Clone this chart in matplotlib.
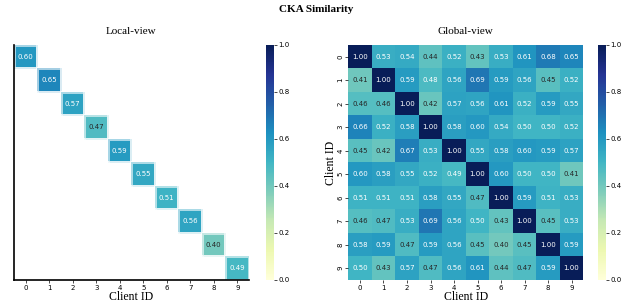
import numpy as np
import matplotlib
matplotlib.use("Agg")
import matplotlib.pyplot as plt
import seaborn as sns

clients = [str(i) for i in range(10)]

# diagonal of the local-view CKA matrix
local_diag = [0.60, 0.65, 0.57, 0.47, 0.59, 0.55, 0.51, 0.56, 0.40, 0.49]

# global-view CKA matrix
global_cka = [
    [1.00, 0.53, 0.54, 0.44, 0.52, 0.43, 0.53, 0.61, 0.68, 0.65],
    [0.41, 1.00, 0.59, 0.48, 0.56, 0.69, 0.59, 0.56, 0.45, 0.52],
    [0.46, 0.46, 1.00, 0.42, 0.57, 0.56, 0.61, 0.52, 0.59, 0.55],
    [0.66, 0.52, 0.58, 1.00, 0.58, 0.60, 0.54, 0.50, 0.50, 0.52],
    [0.45, 0.42, 0.67, 0.53, 1.00, 0.55, 0.58, 0.60, 0.59, 0.57],
    [0.60, 0.58, 0.55, 0.52, 0.49, 1.00, 0.60, 0.50, 0.50, 0.41],
    [0.51, 0.51, 0.51, 0.58, 0.55, 0.47, 1.00, 0.59, 0.51, 0.53],
    [0.46, 0.47, 0.53, 0.69, 0.56, 0.50, 0.43, 1.00, 0.45, 0.53],
    [0.58, 0.59, 0.47, 0.59, 0.56, 0.45, 0.40, 0.45, 1.00, 0.59],
    [0.50, 0.43, 0.57, 0.47, 0.56, 0.61, 0.44, 0.47, 0.59, 1.00],
]

local_mat = np.diag(local_diag)
mask = ~np.eye(10, dtype=bool)

fig = plt.figure(figsize=(6.32, 3.02), dpi=100)
ax1 = fig.add_axes([0.022, 0.073, 0.372, 0.778])
cax1 = fig.add_axes([0.421, 0.073, 0.013, 0.778])
ax2 = fig.add_axes([0.551, 0.073, 0.372, 0.778])
cax2 = fig.add_axes([0.946, 0.073, 0.013, 0.778])

annot_kw = {"fontsize": 5}
sns.heatmap(local_mat, mask=mask, ax=ax1, cbar_ax=cax1, cmap="YlGnBu",
            vmin=0, vmax=1, annot=True, fmt=".2f", annot_kws=annot_kw,
            linewidths=0.8, linecolor=(1, 1, 1, 0.6),
            xticklabels=clients, yticklabels=False)
sns.heatmap(np.array(global_cka), ax=ax2, cbar_ax=cax2, cmap="YlGnBu",
            vmin=0, vmax=1, annot=True, fmt=".2f", annot_kws=annot_kw,
            xticklabels=clients, yticklabels=clients)

# left panel keeps a left and bottom spine
for s in ["left", "bottom"]:
    ax1.spines[s].set_visible(True)
    ax1.spines[s].set_color("black")
    ax1.spines[s].set_linewidth(1.2)

for ax in (ax1, ax2):
    ax.tick_params(axis="both", labelsize=5, length=2, width=0.5, pad=1.5)
    ax.set_xlabel("Client ID", family="Liberation Serif", fontsize=8.5, labelpad=0)
ax2.set_ylabel("Client ID", family="Liberation Serif", fontsize=8.5, labelpad=0)
ax2.tick_params(axis="y", rotation=90)

ax1.set_title("Local-view", family="Liberation Serif", fontsize=8, pad=8)
ax2.set_title("Global-view", family="Liberation Serif", fontsize=8, pad=8)

for cax in (cax1, cax2):
    cax.tick_params(labelsize=5, length=2, width=0.5, pad=1)
    cax.set_yticks([0.0, 0.2, 0.4, 0.6, 0.8, 1.0])

fig.suptitle("CKA Similarity", family="Liberation Serif", fontweight="bold",
             fontsize=8, y=0.985)

fig.savefig("out.png", dpi=100)
